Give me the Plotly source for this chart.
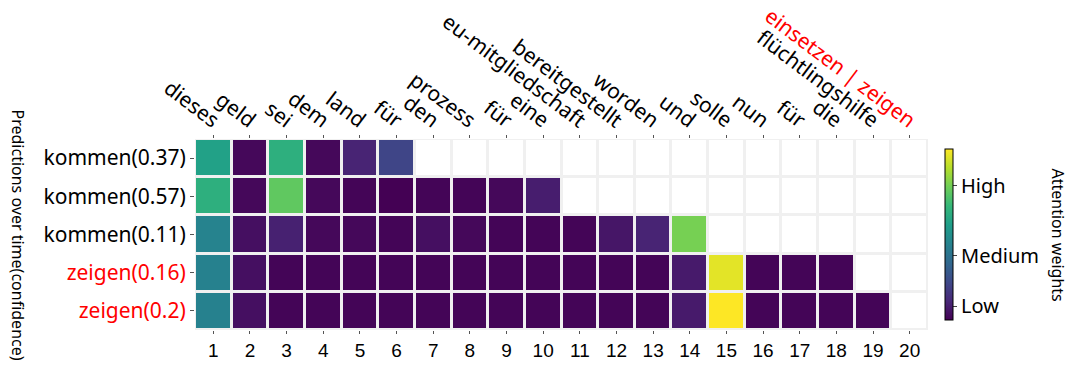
import plotly.graph_objects as go

FONT = "Noto Sans"

# ---- data ----
positions = list(range(1, 21))
tokens = ["dieses", "geld", "sei", "dem", "land", "für", "den", "prozess", "für", "eine",
          "eu-mitgliedschaft", "bereitgestellt", "worden", "und", "solle", "nun", "für",
          "die", "flüchtlingshilfe", "einsetzen | zeigen"]
token_colors = ["black"] * 19 + ["red"]
predictions = ["kommen(0.37)", "kommen(0.57)", "kommen(0.11)", "zeigen(0.16)", "zeigen(0.2)"]
prediction_colors = ["black", "black", "black", "red", "red"]
N = None
attention = [
    [0.57, 0.02, 0.63, 0.02, 0.10, 0.21, N, N, N, N, N, N, N, N, N, N, N, N, N, N],
    [0.63, 0.02, 0.75, 0.02, 0.01, 0.00, 0.01, 0.01, 0.02, 0.08, N, N, N, N, N, N, N, N, N, N],
    [0.45, 0.04, 0.09, 0.02, 0.02, 0.01, 0.04, 0.02, 0.01, 0.01, 0.01, 0.06, 0.10, 0.79, N, N, N, N, N, N],
    [0.44, 0.04, 0.01, 0.01, 0.01, 0.01, 0.01, 0.01, 0.01, 0.01, 0.01, 0.01, 0.01, 0.07, 0.96, 0.01, 0.01, 0.01, N, N],
    [0.44, 0.04, 0.01, 0.01, 0.01, 0.01, 0.01, 0.01, 0.01, 0.01, 0.01, 0.01, 0.01, 0.07, 1.00, 0.01, 0.01, 0.01, 0.01, N],
]
colorbar_tickvals = [0.079, 0.377, 0.785]
colorbar_ticktext = ["Low", "Medium", "High"]

rows = list(range(len(predictions)))

fig = go.Figure()
# white background cells (empty cells appear white with light grey gaps)
fig.add_trace(go.Heatmap(
    x=positions, y=rows, z=[[1] * len(positions) for _ in rows],
    colorscale=[[0, "white"], [1, "white"]], showscale=False,
    xgap=3, ygap=3, hoverinfo="skip", xaxis="x", yaxis="y"))
# attention weights
fig.add_trace(go.Heatmap(
    x=positions, y=rows, z=attention, colorscale="Viridis", zmin=0, zmax=1,
    xgap=3, ygap=3, xaxis="x2", yaxis="y",
    colorbar=dict(
        thickness=8, len=1.0, lenmode="fraction", y=0.5, yanchor="middle",
        x=1.0, xanchor="left", xpad=17, outlinecolor="black", outlinewidth=1,
        tickvals=colorbar_tickvals, ticktext=colorbar_ticktext,
        ticks="outside", ticklen=4, tickcolor="#444",
        tickfont=dict(family=FONT, size=20, color="black"))))

PW = 1069 - 195 - 141
fig.update_layout(
    width=1069, height=371,
    margin=dict(l=195, r=141, t=139, b=41, autoexpand=False),
    paper_bgcolor="white", plot_bgcolor="#f0f0f0",
    font=dict(family=FONT, color="black"),
    xaxis=dict(range=[0.5, 20.5], tickvals=positions, ticktext=[str(p) for p in positions],
               ticks="outside", ticklen=3, tickcolor="#555", showgrid=False, zeroline=False,
               automargin=False,
               tickfont=dict(family="Liberation Sans", size=19, color="black"), showline=False),
    xaxis2=dict(range=[0.5, 20.5], overlaying="x", side="top", anchor="y",
                tickvals=positions, automargin=False,
                ticktext=[f'<span style="color:{c}">{t}</span>' for t, c in zip(tokens, token_colors)],
                tickangle=37, ticks="outside", ticklen=3, tickcolor="#555",
                ticklabelstandoff=-4, ticklabelshift=5,
                showgrid=False, zeroline=False,
                tickfont=dict(family=FONT, size=21, color="black")),
    yaxis=dict(range=[len(rows) - 0.5, -0.5], tickvals=rows, automargin=False,
               ticktext=[f'<span style="color:{c}">{t}</span>' for t, c in zip(predictions, prediction_colors)],
               ticks="outside", ticklen=4, tickcolor="#555", showgrid=False, zeroline=False,
               tickfont=dict(family=FONT, size=21, color="black")),
    annotations=[
        dict(text="Predictions over time(confidence)", xref="paper", yref="paper",
             x=(18 - 195) / PW, y=0.5, xanchor="center", yanchor="middle",
             textangle=90, showarrow=False, font=dict(family=FONT, size=16, color="black")),
        dict(text="Attention weights", xref="paper", yref="paper",
             x=(1058 - 195) / PW, y=0.5, xanchor="center", yanchor="middle",
             textangle=90, showarrow=False, font=dict(family=FONT, size=16, color="black")),
    ],
)

fig.write_html("out.html")
